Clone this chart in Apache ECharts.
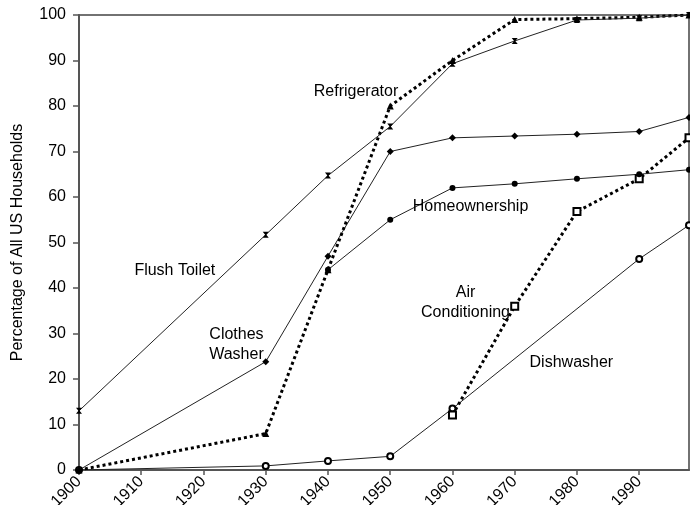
<!DOCTYPE html>
<html>
<head>
<meta charset="utf-8">
<script src="https://cdn.jsdelivr.net/npm/echarts@6/dist/echarts.min.js"></script>
<style>html,body{margin:0;padding:0;background:#fff}#c{width:690px;height:505px}</style>
</head>
<body>
<div id="c"></div>
<script>
// Data
const yearsFull = [1900, 1930, 1940, 1950, 1960, 1970, 1980, 1990, 1998];
const flushToilet = [13, 51.7, 64.7, 75.5, 89.3, 94.3, 98.9, 99.3, 100];
const refrigerator = [0, 8, 44, 80, 90, 99, 99.2, 99.5, 100];
const clothesWasher = [0, 23.8, 47, 70, 73, 73.4, 73.8, 74.4, 77.5];
const homeYears = [1940, 1950, 1960, 1970, 1980, 1990, 1998];
const homeownership = [44, 55, 62, 62.9, 64, 65, 66];
const acYears = [1960, 1970, 1980, 1990, 1998];
const airConditioning = [12.1, 36, 56.8, 64, 73];
const dishYears = [1900, 1930, 1940, 1950, 1960, 1990, 1998];
const dishwasher = [0, 0.9, 2, 3, 13.5, 46.4, 53.8];

// label anchor points in data space [year, value]
const labelNames = ['Flush Toilet', 'Refrigerator', 'Clothes\nWasher', 'Homeownership', 'Air\nConditioning', 'Dishwasher'];
const labelPos = [[1915.4, 43.8], [1944.5, 83.1], [1925.3, 27.5], [1962.9, 57.8], [1962.1, 36.7], [1979.1, 23.5]];

const pairs = (xs, ys) => xs.map((x, i) => [x, ys[i]]);
const FONT = '"Liberation Sans", Arial, Helvetica, sans-serif';

const thin = { color: '#222', width: 1, type: 'solid' };
const dotted = { color: '#000', width: 3, type: [3, 3] };

const chart = echarts.init(document.getElementById('c'), null, { renderer: 'canvas' });
chart.setOption({
  animation: false,
  backgroundColor: '#fff',
  grid: { left: 79, right: 1, top: 15, bottom: 35, containLabel: false, outerBoundsMode: 'none',
    show: true, borderColor: '#444', borderWidth: 1.5, backgroundColor: 'transparent' },
  xAxis: {
    type: 'value', min: 1900, max: 1998, interval: 10,
    axisLine: { show: true, onZero: false, lineStyle: { color: '#555', width: 2 } },
    axisTick: { show: true, length: 5, lineStyle: { color: '#555', width: 1.5 } },
    axisLabel: {
      rotate: 45, margin: 9, fontFamily: FONT, fontSize: 16, color: '#000',
      showMaxLabel: false,
      formatter: v => (v % 10 === 0 ? String(v) : '')
    },
    splitLine: { show: false }
  },
  yAxis: {
    type: 'value', min: 0, max: 100, interval: 10,
    name: 'Percentage of All US Households', nameLocation: 'middle', nameGap: 53,
    nameTextStyle: { fontFamily: FONT, fontSize: 16, color: '#000' },
    axisLine: { show: true, lineStyle: { color: '#555', width: 2 } },
    axisTick: { show: true, length: 6, lineStyle: { color: '#555', width: 1.5 } },
    axisLabel: { margin: 13, fontFamily: FONT, fontSize: 16, color: '#000' },
    splitLine: { show: false }
  },
  series: [
    { name: 'Dishwasher', type: 'line', data: pairs(dishYears, dishwasher), lineStyle: thin,
      symbol: 'emptyCircle', symbolSize: 6, itemStyle: { color: '#000', borderWidth: 1 } },
    { name: 'Air Conditioning', type: 'line', data: pairs(acYears, airConditioning), lineStyle: dotted,
      symbol: 'emptyRect', symbolSize: 7, itemStyle: { color: '#000', borderWidth: 1.2 } },
    { name: 'Homeownership', type: 'line', data: pairs(homeYears, homeownership), lineStyle: thin,
      symbol: 'circle', symbolSize: 6, itemStyle: { color: '#000' } },
    { name: 'Clothes Washer', type: 'line', data: pairs(yearsFull, clothesWasher), lineStyle: thin,
      symbol: 'diamond', symbolSize: 7, itemStyle: { color: '#000' } },
    { name: 'Refrigerator', type: 'line', data: pairs(yearsFull, refrigerator), lineStyle: dotted,
      symbol: 'triangle', symbolSize: 7, itemStyle: { color: '#000' } },
    { name: 'Flush Toilet', type: 'line', data: pairs(yearsFull, flushToilet), lineStyle: thin,
      symbol: 'path://M0,0 L10,0 L6,5 L10,10 L0,10 L4,5 Z', symbolSize: [6, 6], itemStyle: { color: '#000' } },
    { name: 'labels', type: 'scatter', silent: true, z: 10,
      data: labelPos.map((p, i) => ({ value: p, name: labelNames[i] })),
      symbol: 'circle', symbolSize: 1, itemStyle: { color: 'rgba(0,0,0,0)' },
      label: { show: true, position: 'inside', formatter: p => p.name, opacity: 1,
        textBorderWidth: 0, textBorderColor: 'transparent',
        fontFamily: FONT, fontSize: 16, color: '#000', lineHeight: 20, align: 'center' } }
  ]
});
</script>
</body>
</html>
